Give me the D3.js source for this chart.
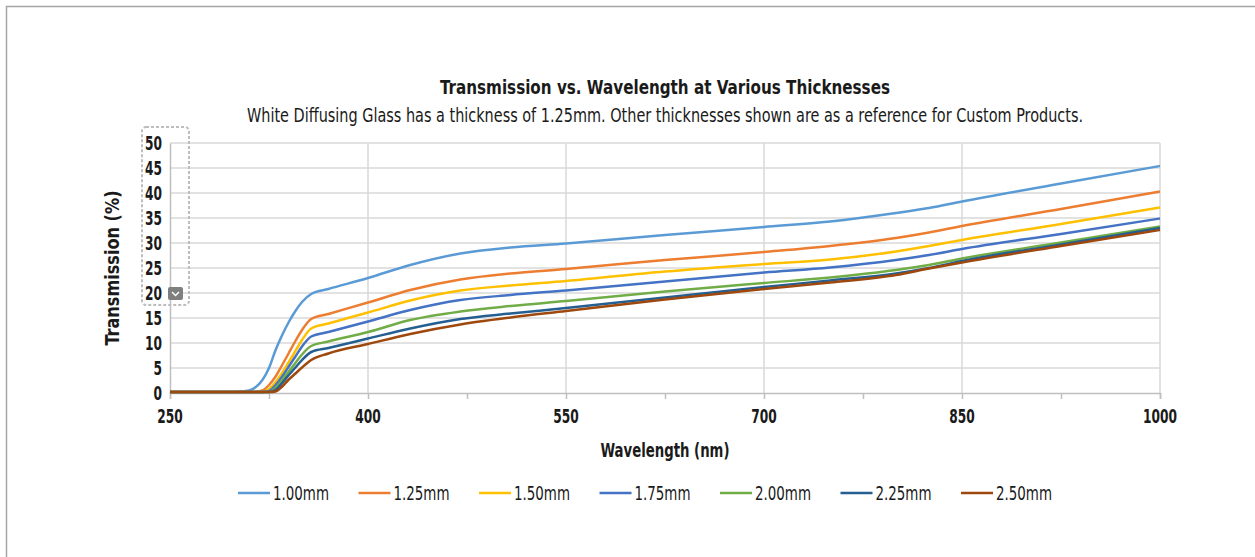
<!DOCTYPE html>
<html>
<head>
<meta charset="utf-8">
<script src="https://cdn.jsdelivr.net/npm/d3@7"></script>
<style>
  body { margin: 0; background: #fff; }
  svg text { font-family: "Liberation Sans Narrow", "DejaVu Sans Condensed", sans-serif; font-stretch: condensed; fill: #1a1a1a; }
</style>
</head>
<body>
<div id="chart"></div>
<script>
// wavelength samples (nm)
const wavelengths = [250, 300, 310, 315, 320, 325, 330, 335, 340, 345, 350, 357, 370, 400, 432, 470, 508, 550, 625, 700, 750, 800, 825, 850, 925, 1000];

// transmission (%) per thickness
const t100 = [0.2, 0.2, 0.5, 1.2, 2.6, 5.0, 8.6, 11.6, 14.2, 16.4, 18.2, 19.8, 20.8, 23.0, 25.6, 27.9, 29.1, 29.9, 31.6, 33.2, 34.3, 36.0, 37.0, 38.3, 41.9, 45.4];
const t125 = [0.2, 0.2, 0.2, 0.2, 0.5, 1.6, 3.3, 5.6, 8.0, 10.4, 12.6, 14.8, 15.8, 18.1, 20.6, 22.7, 23.9, 24.8, 26.6, 28.2, 29.4, 31.0, 32.1, 33.4, 36.8, 40.3];
const t150 = [0.2, 0.2, 0.2, 0.2, 0.2, 0.8, 2.2, 4.0, 6.2, 8.4, 10.6, 12.9, 13.9, 16.1, 18.5, 20.5, 21.5, 22.4, 24.3, 25.8, 26.7, 28.3, 29.4, 30.6, 33.8, 37.1];
const t175 = [0.2, 0.2, 0.2, 0.2, 0.2, 0.4, 1.6, 3.3, 5.3, 7.3, 9.3, 11.3, 12.2, 14.3, 16.6, 18.6, 19.6, 20.5, 22.3, 24.1, 25.1, 26.6, 27.6, 28.8, 31.8, 34.9];
const t200 = [0.2, 0.2, 0.2, 0.2, 0.2, 0.2, 1.0, 2.6, 4.3, 6.0, 7.7, 9.4, 10.3, 12.2, 14.6, 16.3, 17.4, 18.4, 20.3, 22.0, 23.1, 24.6, 25.6, 26.9, 30.1, 33.3];
const t225 = [0.2, 0.2, 0.2, 0.2, 0.2, 0.2, 0.6, 2.0, 3.6, 5.1, 6.6, 8.2, 9.0, 10.9, 12.9, 14.8, 15.9, 17.0, 19.1, 21.2, 22.5, 23.9, 25.0, 26.4, 29.7, 33.0];
const t250 = [0.2, 0.2, 0.2, 0.2, 0.2, 0.2, 0.3, 1.3, 2.7, 3.9, 5.1, 6.6, 7.9, 9.8, 11.8, 13.7, 15.1, 16.4, 18.7, 20.8, 22.1, 23.6, 24.9, 26.1, 29.4, 32.6];

const seriesNames = ["1.00mm", "1.25mm", "1.50mm", "1.75mm", "2.00mm", "2.25mm", "2.50mm"];
const seriesValues = [t100, t125, t150, t175, t200, t225, t250];
const colors = ["#5B9BD5", "#ED7D31", "#FFC000", "#4472C4", "#70AD47", "#255E91", "#9E480E"];

const xTickValues = [250, 325, 400, 475, 550, 625, 700, 775, 850, 925, 1000];
const xLabelValues = [250, 400, 550, 700, 850, 1000];
const yTickValues = [0, 5, 10, 15, 20, 25, 30, 35, 40, 45, 50];

const W = 1255, H = 557;
const margin = { top: 143, left: 170 },
      width = 990,
      height = 250;

// condensed digits: roughly 8.5px per character
const digitWidth = s => String(s).length * 8.5;

const root = d3.select("#chart").append("svg")
    .attr("width", W)
    .attr("height", H);

// outer frame (only top and left show in the picture)
root.append("rect")
    .attr("x", 6.5).attr("y", 6.5)
    .attr("width", W + 20).attr("height", H + 20)
    .attr("fill", "none")
    .attr("stroke", "#a6a6a6")
    .attr("stroke-width", 1.5);

const svg = root.append("g")
    .attr("transform", `translate(${margin.left},${margin.top})`);

const x = d3.scaleLinear().domain([250, 1000]).range([0, width]);
const y = d3.scaleLinear().domain([0, 50]).range([height, 0]);

// gridlines
svg.append("g").selectAll("line.hg")
    .data(yTickValues.filter(d => d > 0))
    .join("line")
    .attr("x1", 0).attr("x2", width)
    .attr("y1", d => y(d)).attr("y2", d => y(d))
    .attr("stroke", "#d9d9d9").attr("stroke-width", 1.5);

svg.append("g").selectAll("line.vg")
    .data(xLabelValues.filter(d => d > 250))
    .join("line")
    .attr("x1", d => x(d)).attr("x2", d => x(d))
    .attr("y1", 0).attr("y2", height)
    .attr("stroke", "#d9d9d9").attr("stroke-width", 1.5);

// x axis
const xAxis = svg.append("g")
    .attr("transform", `translate(0,${height})`)
    .call(d3.axisBottom(x).tickValues(xTickValues).tickSize(6).tickFormat(""));
xAxis.select(".domain").attr("stroke", "#bfbfbf").attr("stroke-width", 1.5);
xAxis.selectAll(".tick line").attr("stroke", "#bfbfbf").attr("stroke-width", 1.5);

svg.append("g").selectAll("text.xl")
    .data(xLabelValues)
    .join("text")
    .attr("x", d => x(d))
    .attr("y", height + 30)
    .attr("text-anchor", "middle")
    .attr("textLength", d => digitWidth(d))
    .attr("lengthAdjust", "spacingAndGlyphs")
    .style("font-size", "20px")
    .style("font-weight", "bold")
    .text(d => d);

// y axis
const yAxis = svg.append("g")
    .call(d3.axisLeft(y).tickValues(yTickValues).tickSize(0).tickPadding(8));
yAxis.select(".domain").attr("stroke", "#bfbfbf").attr("stroke-width", 1.5);
yAxis.selectAll(".tick text")
    .attr("textLength", d => digitWidth(d))
    .attr("lengthAdjust", "spacingAndGlyphs")
    .style("font-size", "20px")
    .style("font-weight", "bold")
    .attr("fill", "#1a1a1a");

// lines
const line = d3.line()
    .x((d, i) => x(wavelengths[i]))
    .y(d => y(d))
    .curve(d3.curveMonotoneX);

svg.append("g").selectAll("path.series")
    .data(seriesValues)
    .join("path")
    .attr("fill", "none")
    .attr("stroke", (d, i) => colors[i])
    .attr("stroke-width", 2.5)
    .attr("stroke-linejoin", "round")
    .attr("d", line);

// selection box artifact around the y labels
root.append("rect")
    .attr("x", 142).attr("y", 127)
    .attr("width", 47).attr("height", 178)
    .attr("rx", 4)
    .attr("fill", "none")
    .attr("stroke", "#bdbdbd")
    .attr("stroke-width", 2)
    .attr("stroke-dasharray", "3,2");
root.append("rect")
    .attr("x", 168).attr("y", 287)
    .attr("width", 15).attr("height", 13)
    .attr("rx", 2)
    .attr("fill", "#7f7f7f");
root.append("path")
    .attr("d", "M172,292 L175.5,295.5 L179,292")
    .attr("fill", "none")
    .attr("stroke", "#fff")
    .attr("stroke-width", 1.5);

// titles
root.append("text")
    .attr("x", 665).attr("y", 94)
    .attr("text-anchor", "middle")
    .attr("textLength", 450).attr("lengthAdjust", "spacingAndGlyphs")
    .style("font-size", "20px").style("font-weight", "bold")
    .text("Transmission vs. Wavelength at Various Thicknesses");

root.append("text")
    .attr("x", 665).attr("y", 122)
    .attr("text-anchor", "middle")
    .attr("textLength", 836).attr("lengthAdjust", "spacingAndGlyphs")
    .style("font-size", "19px")
    .style("font-weight", 500)
    .text("White Diffusing Glass has a thickness of 1.25mm. Other thicknesses shown are as a reference for Custom Products.");

// axis titles
root.append("text")
    .attr("transform", "translate(119,268) rotate(-90)")
    .attr("text-anchor", "middle")
    .attr("textLength", 155).attr("lengthAdjust", "spacingAndGlyphs")
    .style("font-size", "20px").style("font-weight", "bold")
    .text("Transmission (%)");

root.append("text")
    .attr("x", 665).attr("y", 457)
    .attr("text-anchor", "middle")
    .attr("textLength", 129).attr("lengthAdjust", "spacingAndGlyphs")
    .style("font-size", "20px").style("font-weight", "bold")
    .text("Wavelength (nm)");

// legend
const legend = root.append("g")
    .attr("transform", "translate(238,493)");

const item = legend.selectAll("g")
    .data(seriesNames)
    .join("g")
    .attr("transform", (d, i) => `translate(${i * 120.5},0)`);

item.append("line")
    .attr("x1", 0).attr("x2", 32)
    .attr("y1", 0).attr("y2", 0)
    .attr("stroke", (d, i) => colors[i])
    .attr("stroke-width", 2.5);

item.append("text")
    .attr("x", 35).attr("y", 7)
    .attr("textLength", 56).attr("lengthAdjust", "spacingAndGlyphs")
    .style("font-size", "19px")
    .text(d => d);
</script>
</body>
</html>
